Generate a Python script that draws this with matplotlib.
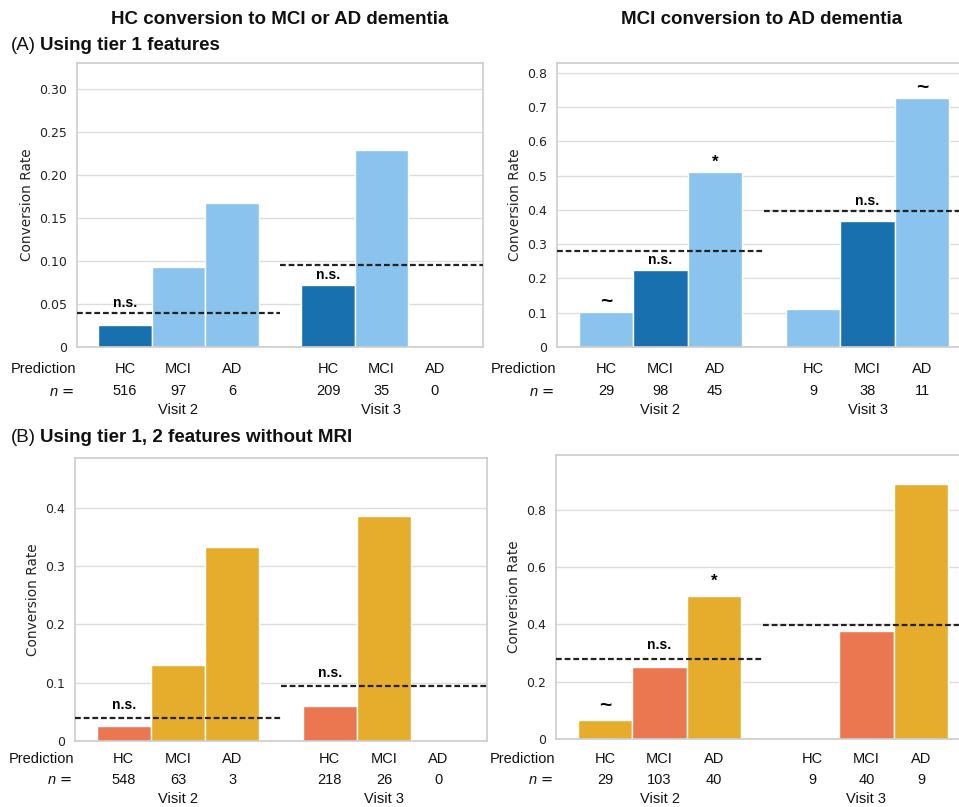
import matplotlib.pyplot as plt
from matplotlib.ticker import FuncFormatter

plt.rcParams['font.family'] = 'DejaVu Sans'
plt.rcParams['mathtext.fontset'] = 'custom'
plt.rcParams['mathtext.it'] = 'Liberation Sans:italic'
plt.rcParams['mathtext.rm'] = 'Liberation Sans'

LABEL_FONT = 'Liberation Sans'

pred_labels = ['HC', 'MCI', 'AD']
visit_labels = ['Visit 2', 'Visit 3']

# (A) tier 1 features
hc_t1_rate = [0.026, 0.093, 0.167, 0.072, 0.229, 0.0]
hc_t1_n = [516, 97, 6, 209, 35, 0]
hc_t1_base = [0.039, 0.095]
mci_t1_rate = [0.103, 0.224, 0.511, 0.111, 0.368, 0.727]
mci_t1_n = [29, 98, 45, 9, 38, 11]
mci_t1_base = [0.279, 0.397]

# (B) tier 1, 2 features without MRI
hc_t2_rate = [0.026, 0.131, 0.333, 0.060, 0.385, 0.0]
hc_t2_n = [548, 63, 3, 218, 26, 0]
hc_t2_base = [0.039, 0.095]
mci_t2_rate = [0.067, 0.252, 0.500, 0.0, 0.375, 0.889]
mci_t2_n = [29, 103, 40, 9, 40, 9]
mci_t2_base = [0.279, 0.397]

# significance marks: (bar index, label, drawn above 'bar' or 'line')
hc_t1_sig = [(0, 'n.s.', 'line'), (3, 'n.s.', 'bar')]
mci_t1_sig = [(0, '~', 'bar'), (1, 'n.s.', 'bar'), (2, '*', 'bar'),
              (4, 'n.s.', 'line'), (5, '~', 'bar')]
hc_t2_sig = [(0, 'n.s.', 'line'), (3, 'n.s.', 'line')]
mci_t2_sig = [(0, '~', 'bar'), (1, 'n.s.', 'line'), (2, '*', 'bar')]

DARK_BLUE = '#1871AE'
LIGHT_BLUE = '#89C3EE'
ORANGE = '#EA7750'
GOLD = '#E5AD2B'

W, H = 959, 807
fig = plt.figure(figsize=(W / 100, H / 100), dpi=100)

xpos = [0, 1, 2, 3.8, 4.8, 5.8]
split = 2.9
sig_size = {'n.s.': 10, '~': 15, '*': 12}


def px_axes(l, t, r, b):
    return fig.add_axes([l / W, 1 - b / H, (r - l) / W, (b - t) / H])


def draw_panel(ax, rate, n, base, dark, light, true_idx, sig, ylim, yticks,
               dec, sig_off, rows):
    colors = [dark if (i % 3) == true_idx else light for i in range(6)]
    ax.bar(xpos, rate, width=1.0, color=colors, edgecolor='white',
           linewidth=1.0, zorder=2)
    dash = (0, (2.6, 1.3))
    ax.plot([-0.9, split], [base[0]] * 2, ls=dash, color='#222222',
            lw=1.6, zorder=3)
    ax.plot([split, 6.7], [base[1]] * 2, ls=dash, color='#222222',
            lw=1.6, zorder=3)
    for idx, lab, ref in sig:
        y = rate[idx] if ref == 'bar' else base[0 if idx < 3 else 1]
        ax.annotate(lab, xy=(xpos[idx], y), xytext=(0, sig_off),
                    textcoords='offset pixels', ha='center', va='center',
                    fontsize=sig_size[lab], fontweight='bold',
                    family=LABEL_FONT, zorder=4)

    ax.set_xlim(-0.9, 6.7)
    ax.set_ylim(*ylim)
    ax.set_yticks(yticks)
    ax.yaxis.set_major_formatter(
        FuncFormatter(lambda v, p: '0' if v == 0 else f'{v:.{dec}f}'))
    ax.set_xticks([])
    ax.tick_params(axis='y', length=0, pad=7, labelsize=9, colors='#222222')
    ax.set_ylabel('Conversion Rate', fontsize=9.8, color='#222222',
                  labelpad=4)
    ax.grid(axis='y', color='#dcdcdc', lw=1.0, zorder=0)
    ax.set_axisbelow(True)
    for sp in ax.spines.values():
        sp.set_color('#cccccc')
        sp.set_linewidth(1.2)

    # prediction / count / visit rows under the axis
    kw = dict(xycoords=('data', 'axes fraction'), textcoords='offset pixels',
              va='center', fontsize=10.5, family=LABEL_FONT,
              color='#111111', annotation_clip=False)
    r1, r2, r3 = rows
    ax.annotate('Prediction', xy=(0, 0), xycoords='axes fraction',
                xytext=(-1, -r1), textcoords='offset pixels', ha='right',
                va='center', fontsize=10.5, family=LABEL_FONT,
                color='#111111', annotation_clip=False)
    ax.annotate(r'$n$ =', xy=(0, 0), xycoords='axes fraction',
                xytext=(-3, -r2), textcoords='offset pixels', ha='right',
                va='center', fontsize=10.5, color='#111111',
                annotation_clip=False)
    for i, x in enumerate(xpos):
        ax.annotate(pred_labels[i % 3], xy=(x, 0), xytext=(0, -r1),
                    ha='center', **kw)
        ax.annotate(str(n[i]), xy=(x, 0), xytext=(0, -r2), ha='center', **kw)
    for j, lab in enumerate(visit_labels):
        ax.annotate(lab, xy=(xpos[3 * j + 1], 0), xytext=(0, -r3),
                    ha='center', **kw)


ax1 = px_axes(77, 63, 483, 347)
draw_panel(ax1, hc_t1_rate, hc_t1_n, hc_t1_base, DARK_BLUE, LIGHT_BLUE, 0,
           hc_t1_sig, (0, 0.33), [0, 0.05, 0.10, 0.15, 0.20, 0.25, 0.30], 2,
           10, (22, 44, 63))

ax2 = px_axes(557, 63, 971, 347)
draw_panel(ax2, mci_t1_rate, mci_t1_n, mci_t1_base, DARK_BLUE, LIGHT_BLUE, 1,
           mci_t1_sig, (0, 0.829), [0, 0.1, 0.2, 0.3, 0.4, 0.5, 0.6, 0.7, 0.8],
           1, 10, (22, 44, 63))

ax3 = px_axes(75, 458, 487, 741)
draw_panel(ax3, hc_t2_rate, hc_t2_n, hc_t2_base, ORANGE, GOLD, 0,
           hc_t2_sig, (0, 0.485), [0, 0.1, 0.2, 0.3, 0.4], 1,
           13, (18, 39, 58))

ax4 = px_axes(556, 455, 970, 739)
draw_panel(ax4, mci_t2_rate, mci_t2_n, mci_t2_base, ORANGE, GOLD, 1,
           mci_t2_sig, (0, 0.99), [0, 0.2, 0.4, 0.6, 0.8], 1,
           14, (20, 41, 60))

# column titles and row headings
tkw = dict(fontsize=13.5, fontweight='bold', family=LABEL_FONT,
           color='#111111', va='center')
fig.text(280 / W, 1 - 20 / H, 'HC conversion to MCI or AD dementia',
         ha='center', **tkw)
fig.text(762 / W, 1 - 20 / H, 'MCI conversion to AD dementia',
         ha='center', **tkw)
fig.text(11 / W, 1 - 46 / H, '(A)', fontsize=13.5, family=LABEL_FONT,
         color='#111111', va='center')
fig.text(40 / W, 1 - 46 / H, 'Using tier 1 features', ha='left', **tkw)
fig.text(11 / W, 1 - 437 / H, '(B)', fontsize=13.5, family=LABEL_FONT,
         color='#111111', va='center')
fig.text(40 / W, 1 - 437 / H, 'Using tier 1, 2 features without MRI',
         ha='left', **tkw)

fig.savefig('out.png', dpi=100)
